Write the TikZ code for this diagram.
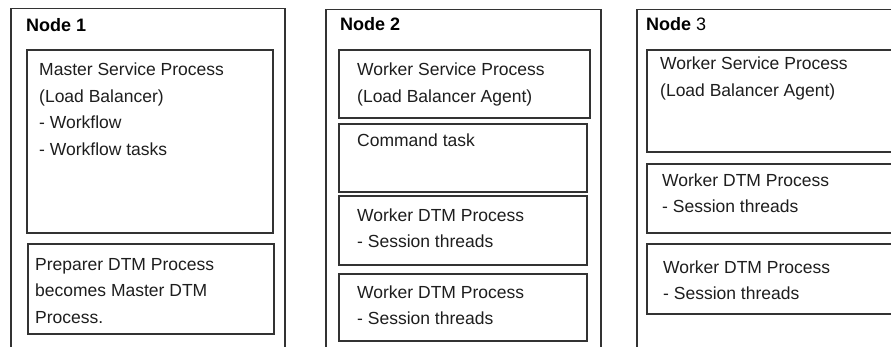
\documentclass[tikz,border=0pt]{standalone}
\usepackage{fontspec}
\setmainfont{Liberation Sans}
\definecolor{linec}{HTML}{333333}
\definecolor{textc}{HTML}{1E1E1E}
\begin{document}
\begin{tikzpicture}[x=1pt,y=-1pt,
  outer/.style={draw=linec,line width=1.5pt,anchor=north west,inner sep=0pt},
  box/.style={draw=linec,line width=1.6pt,anchor=north west,inner sep=0pt},
  txt/.style={anchor=base west,inner sep=0pt,align=left,text=textc,
    font=\fontsize{17.5}{26.5}\selectfont},
  ttl/.style={anchor=base west,inner sep=0pt,text=black,
    font=\fontsize{18}{22}\selectfont\bfseries}]
\useasboundingbox (0,0) rectangle (891,347);
\fill[white] (0,0) rectangle (891,347);
\clip (0,0) rectangle (891,347);
% Node 1
\node[outer,minimum width=274pt,minimum height=380pt] (n1) at (10,8) {};
\node[ttl] (t1) at (26,32) {Node 1};
\node[box,minimum width=246pt,minimum height=183pt] (m1) at (26,49) {};
\node[txt] (m1t) at (39,155.5) {Master Service Process\\(Load Balancer)\\- Workflow\\- Workflow tasks};
\node[box,minimum width=246pt,minimum height=90pt] (p1) at (27,243) {};
\node[txt] (p1t) at (35,323) {Preparer DTM Process\\becomes Master DTM\\Process.};
% Node 2
\node[outer,minimum width=275pt,minimum height=380pt] (n2) at (325,9) {};
\node[ttl] (t2) at (340,31) {Node 2};
\node[box,minimum width=251pt,minimum height=68pt] (w2) at (338,49) {};
\node[txt] (w2t) at (357,102.5) {Worker Service Process\\(Load Balancer Agent)};
\node[box,minimum width=248pt,minimum height=68pt] (c2) at (338,123) {};
\node[txt] (c2t) at (357,147) {Command task};
\node[box,minimum width=248pt,minimum height=69pt] (d2a) at (338,195) {};
\node[txt] (d2at) at (357,248) {Worker DTM Process\\- Session threads};
\node[box,minimum width=248pt,minimum height=67pt] (d2b) at (338,273) {};
\node[txt] (d2bt) at (357,324.5) {Worker DTM Process\\- Session threads};
% Node 3
\node[outer,minimum width=300pt,minimum height=380pt] (n3) at (636,9) {};
\node[anchor=base west,inner sep=0pt,font=\fontsize{18}{22}\selectfont] (t3) at (646,31) {\textbf{Node} 3};
\node[box,minimum width=280pt,minimum height=102pt] (w3) at (646,49) {};
\node[txt] (w3t) at (660,96.5) {Worker Service Process\\(Load Balancer Agent)};
\node[box,minimum width=280pt,minimum height=69pt] (d3a) at (646,163) {};
\node[txt] (d3at) at (662,213) {Worker DTM Process\\- Session threads};
\node[box,minimum width=280pt,minimum height=70pt] (d3b) at (646,243) {};
\node[txt] (d3bt) at (663,299.5) {Worker DTM Process\\- Session threads};
\end{tikzpicture}
\end{document}
